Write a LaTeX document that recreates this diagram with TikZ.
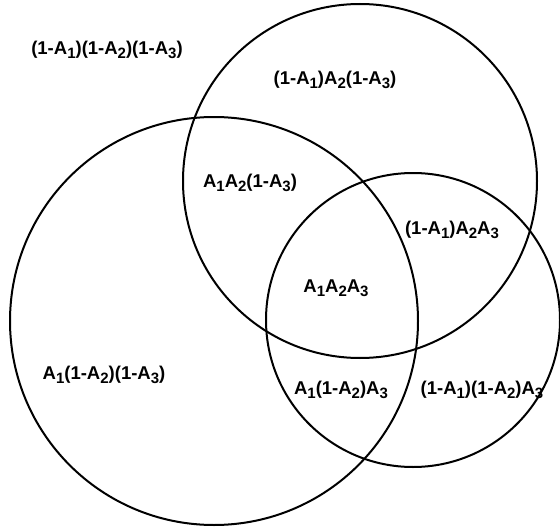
\documentclass[tikz,border=0pt]{standalone}
\usepackage{fontspec}
\setmainfont{Liberation Sans}
\usepackage{tikz}
\usetikzlibrary{calc}
\newcommand{\lo}[1]{\raisebox{-0.45ex}{\fontsize{15}{15}\selectfont #1}}
\tikzset{
  region/.style={font=\fontsize{18.5}{20}\selectfont\bfseries, inner sep=0pt},
  setline/.style={line width=2pt}
}
\begin{document}
\begin{tikzpicture}[x=1pt, y=-1pt, line join=round]
  \useasboundingbox (0,0) rectangle (560,527);
  % Centres des trois ensembles
  \coordinate (cA1) at (214,321);
  \coordinate (cA2) at (360,181);
  \coordinate (cA3) at (413,320);
  % Cercles
  \draw[setline] (cA1) circle (204);
  \draw[setline] (cA2) circle (177);
  \draw[setline] (cA3) circle (147);
  % Etiquettes des regions
  \node[region] (r000) at (107,50)  {(1-A\lo{1})(1-A\lo{2})(1-A\lo{3})};
  \node[region] (r010) at (335,80)  {(1-A\lo{1})A\lo{2}(1-A\lo{3})};
  \node[region] (r110) at (250,183) {A\lo{1}A\lo{2}(1-A\lo{3})};
  \node[region] (r011) at (452,230) {(1-A\lo{1})A\lo{2}A\lo{3}};
  \node[region] (r111) at (336,288) {A\lo{1}A\lo{2}A\lo{3}};
  \node[region] (r100) at (104,375) {A\lo{1}(1-A\lo{2})(1-A\lo{3})};
  \node[region] (r101) at (341,390) {A\lo{1}(1-A\lo{2})A\lo{3}};
  \node[region] (r001) at (482,390) {(1-A\lo{1})(1-A\lo{2})A\lo{3}};
\end{tikzpicture}
\end{document}
